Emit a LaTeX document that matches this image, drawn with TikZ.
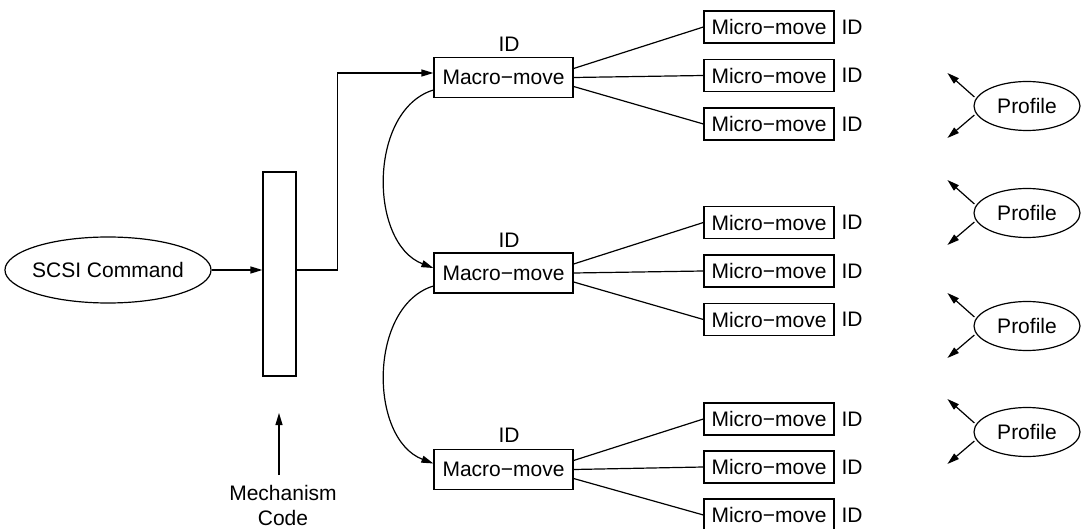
\documentclass[tikz,border=0pt]{standalone}
\usepackage{fontspec}
\setmainfont{Liberation Sans}
\usetikzlibrary{arrows.meta,shapes.geometric}
\tikzset{
  lw/.style={line width=1.2pt},
  arr/.style={lw,-{Triangle[length=12pt,width=7pt]}},
  txt/.style={font=\fontsize{21}{25}\selectfont,inner sep=0pt},
  macro/.style={txt,draw,lw,minimum width=139pt,minimum height=40pt},
  micro/.style={txt,draw,lw,minimum width=130pt,minimum height=32pt},
  oval/.style={txt,draw,lw,ellipse},
}
\begin{document}
\begin{tikzpicture}[x=1pt,y=-1pt]
\useasboundingbox (0,0) rectangle (1082,529);
% left part
\node[oval,inner xsep=-3pt,minimum width=196pt,minimum height=66pt] (scsi) at (108,270) {SCSI Command};
\node[draw,lw,minimum width=33pt,minimum height=204pt,inner sep=0pt] (bar) at (279.5,274) {};
\node[txt,align=center] (mech) at (283,505) {Mechanism\\Code};
\coordinate (mtip) at (279,413);
\draw[arr] (scsi.east) -- (scsi.east -| bar.west);
\draw[arr] ([yshift=9.5pt]mech.north -| mtip) -- (mtip);
% macro moves
\node[macro] (m1) at (503.5,77.5) {Macro−move};
\node[macro] (m2) at (503.5,273) {Macro−move};
\node[macro] (m3) at (503.5,469.5) {Macro−move};
\node[txt] (i1) at (509,44) {ID};
\node[txt] (i2) at (509,240) {ID};
\node[txt] (i3) at (509,435) {ID};
\draw[arr] (scsi.east -| bar.east) -- ++(41,0) |- ([yshift=4.5pt]m1.west);
\draw[arr] ([yshift=-12.5pt]m1.west) .. controls +(-65,20) and +(-65,-25) .. ([yshift=5pt]m2.west);
\draw[arr] ([yshift=-13pt]m2.west) .. controls +(-65,20) and +(-65,-25) .. ([yshift=6pt]m3.west);
% micro moves
\foreach \g/\ya/\yb/\yc in {1/27/75.5/124, 2/222.5/271/319.5, 3/419/467/515}{
  \node[micro] (u\g a) at (769,\ya) {Micro−move};
  \node[micro] (u\g b) at (769,\yb) {Micro−move};
  \node[micro] (u\g c) at (769,\yc) {Micro−move};
  \node[txt] (d\g a) at (852,\ya) {ID};
  \node[txt] (d\g b) at (852,\yb) {ID};
  \node[txt] (d\g c) at (852,\yc) {ID};
  \draw[lw] ([yshift=9pt]m\g.east) -- (u\g a.west);
  \draw[lw] ([yshift=0pt]m\g.east) -- (u\g b.west);
  \draw[lw] ([yshift=-9pt]m\g.east) -- (u\g c.west);
}
% profiles
\foreach \k/\y in {1/106, 2/213, 3/326, 4/432}{
  \node[oval,minimum width=106pt,minimum height=49pt] (p\k) at (1027,\y) {Profile};
  \draw[arr] ([xshift=1pt,yshift=9pt]p\k.west) -- ++(-27,-24);
  \draw[arr] ([xshift=1pt,yshift=-9pt]p\k.west) -- ++(-27,23);
}
\end{tikzpicture}
\end{document}
